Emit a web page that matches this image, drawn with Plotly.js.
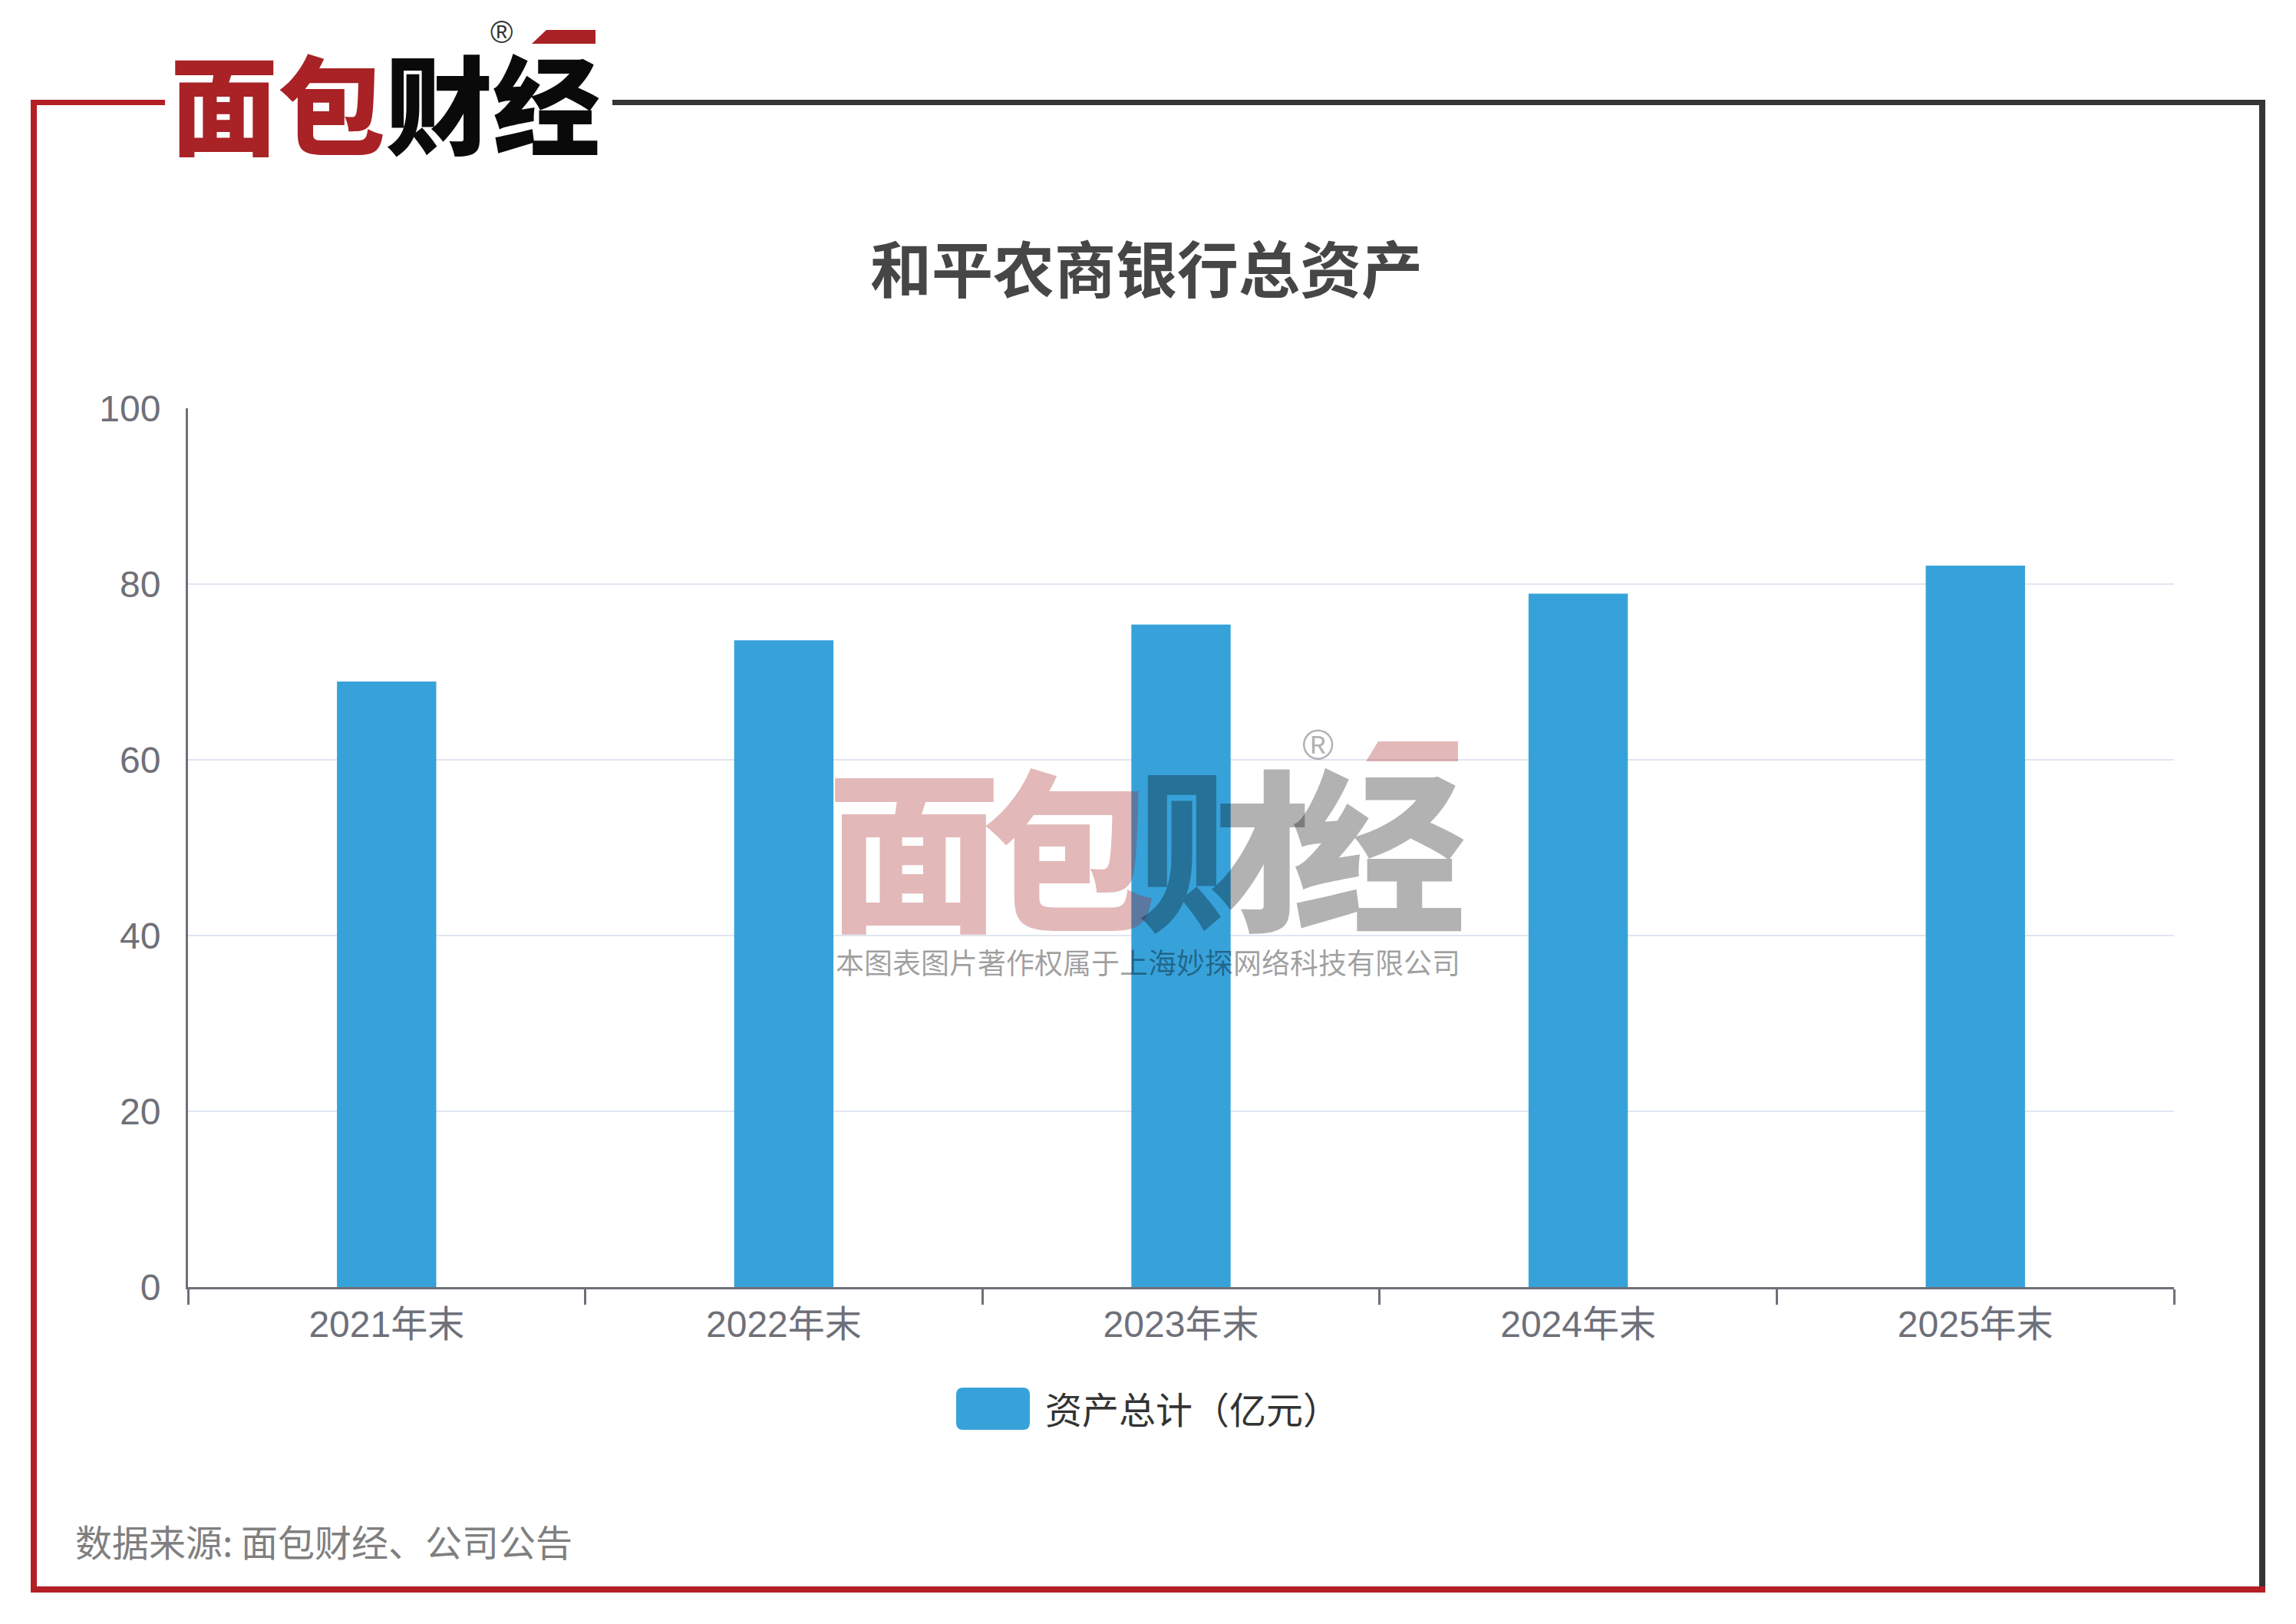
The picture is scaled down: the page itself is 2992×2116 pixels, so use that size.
<!DOCTYPE html>
<html><head><meta charset="utf-8">
<script src="https://cdn.plot.ly/plotly-3.0.1.min.js"></script>
<style>html,body{margin:0;padding:0;background:#fff;} #chart{width:2992px;height:2116px;}</style>
</head><body><div id="chart"></div>
<script>
// ---- data ----
const categories = ['2021年末', '2022年末', '2023年末', '2024年末', '2025年末'];
const totalAssets = [68.9, 73.6, 75.4, 78.9, 82.1];
const seriesName = '资产总计（亿元）';
const chartTitle = '和平农商银行总资产';
const yTickValues = [0, 20, 40, 60, 80, 100];
const sourceText = '数据来源: 面包财经、公司公告';
const watermarkNote = '本图表图片著作权属于上海妙探网络科技有限公司';
const brandRed = '面包';
const brandDark = '财经';

// ---- geometry helpers (pixel -> paper) ----
const W = 2992, H = 2116;
const L = 245, R = 2833, T = 532, B = 1677;
function px(x) { return (x - L) / (R - L); }
function py(y) { return (B - y) / (B - T); }
function rect(x0, y0, x1, y1, color, layer) {
  return {type: 'rect', xref: 'paper', yref: 'paper', x0: px(x0), x1: px(x1), y0: py(y1), y1: py(y0),
    fillcolor: color, line: {width: 0}, layer: layer || 'above'};
}
function poly(pts, color) {
  return {type: 'path', xref: 'paper', yref: 'paper',
    path: 'M' + pts.map(p => px(p[0]) + ',' + py(p[1])).join(' L') + ' Z',
    fillcolor: color, line: {width: 0}, layer: 'above'};
}
function roundRect(x0, y0, x1, y1, r, color) {
  const P = (x, y) => px(x) + ',' + py(y);
  const d = 'M' + P(x0 + r, y0) + ' L' + P(x1 - r, y0) + ' Q' + P(x1, y0) + ' ' + P(x1, y0 + r) +
    ' L' + P(x1, y1 - r) + ' Q' + P(x1, y1) + ' ' + P(x1 - r, y1) +
    ' L' + P(x0 + r, y1) + ' Q' + P(x0, y1) + ' ' + P(x0, y1 - r) +
    ' L' + P(x0, y0 + r) + ' Q' + P(x0, y0) + ' ' + P(x0 + r, y0) + ' Z';
  return {type: 'path', xref: 'paper', yref: 'paper', path: d, fillcolor: color, line: {width: 0}, layer: 'above'};
}
function ann(text, x, y, size, color, extra) {
  return Object.assign({text: text, xref: 'paper', yref: 'paper', x: px(x), y: py(y),
    xanchor: 'center', yanchor: 'middle', showarrow: false,
    font: {family: 'Noto Sans CJK SC, sans-serif', size: size, color: color}}, extra || {});
}

const RED = '#b41f26', DARK = '#353535', LOGO_RED = '#a82226', BAR = '#37a2da';
const WM_RED = 'rgba(168,34,38,0.32)', WM_GRAY = 'rgba(0,0,0,0.30)';
const tickFamily = 'Liberation Sans, Noto Sans CJK SC, sans-serif';

const shapes = [
  // frame
  rect(40, 130, 215, 137, RED, 'below'),
  rect(40, 130, 48, 2075, RED, 'below'),
  rect(798, 130, 2952, 137, DARK, 'below'),
  rect(2944, 130, 2952, 2070, DARK, 'below'),
  rect(40, 2067, 2952, 2075, RED, 'below'),
  // logo stroke
  poly([[712, 39], [776, 39], [776, 57], [693, 57]], LOGO_RED),
  // watermark stroke
  poly([[1796, 966], [1900, 966], [1900, 992], [1780, 992]], WM_RED),
  // legend swatch
  roundRect(1246, 1808, 1342, 1863, 9, BAR)
];

const annotations = [
  ann('<span style="color:' + LOGO_RED + '">' + brandRed + '</span><span style="color:#0a0a0a">' + brandDark + '</span>',
      502, 130, 140, LOGO_RED, {font: {family: 'Noto Sans CJK SC, sans-serif', size: 140, weight: 900, color: LOGO_RED}}),
  ann('®', 653, 42, 40, '#333', {font: {family: 'Liberation Sans, sans-serif', size: 40, color: '#333'}}),
  ann('<span style="color:' + WM_RED + ';letter-spacing:-24px">' + brandRed + '</span><span style="color:' + WM_GRAY + ';letter-spacing:-24px">' + brandDark + '</span>',
      1493, 1097, 226, '#000000', {font: {family: 'Noto Sans CJK SC, sans-serif', size: 226, weight: 900, color: '#000000'}}),
  ann('®', 1718, 970, 56, '#000000', {text: '<span style="color:rgba(0,0,0,0.3)">®</span>', font: {family: 'Liberation Sans, sans-serif', size: 56, color: '#000000'}}),
  ann(watermarkNote, 1496, 1253, 37, '#000000', {text: '<span style="color:rgba(0,0,0,0.38)">' + watermarkNote + '</span>'}),
  ann(seriesName, 1360, 1834, 48, '#333', {xanchor: 'left'}),
  ann(sourceText, 96, 2007, 48, '#7f7f7f', {xanchor: 'left'})
];

const trace = {
  type: 'bar', x: categories, y: totalAssets, name: seriesName,
  marker: {color: BAR, line: {width: 0}}, showlegend: false, hoverinfo: 'skip'
};

const layout = {
  width: W, height: H,
  margin: {l: L, r: W - R, t: T, b: H - B, pad: 0},
  paper_bgcolor: '#fff', plot_bgcolor: '#fff',
  title: {text: chartTitle, xref: 'paper', x: px(1494), xanchor: 'center',
    yref: 'container', y: 1 - 353 / H, yanchor: 'middle',
    font: {family: 'Noto Sans CJK SC, sans-serif', size: 80, color: '#464646', weight: 700}},
  bargap: 0.75,
  showlegend: false,
  xaxis: {type: 'category', showline: true, linecolor: '#6E7079', linewidth: 3,
    ticks: 'outside', tickson: 'boundaries', ticklen: 20, tickwidth: 3, tickcolor: '#6E7079',
    tickfont: {family: tickFamily, size: 48, color: '#6E7079'}, showgrid: false, zeroline: false,
    ticklabelstandoff: 4, fixedrange: true},
  yaxis: {range: [0, 100], tickvals: yTickValues, ticktext: yTickValues.map(String),
    showline: true, linecolor: '#6E7079', linewidth: 3, ticks: '',
    showgrid: true, gridcolor: '#E0E6F1', gridwidth: 2, zeroline: false,
    tickfont: {family: tickFamily, size: 48, color: '#6E7079'}, ticklabelstandoff: 23, fixedrange: true},
  shapes: shapes,
  annotations: annotations
};

Plotly.newPlot('chart', [trace], layout, {staticPlot: true, displayModeBar: false});
</script>
</body></html>
